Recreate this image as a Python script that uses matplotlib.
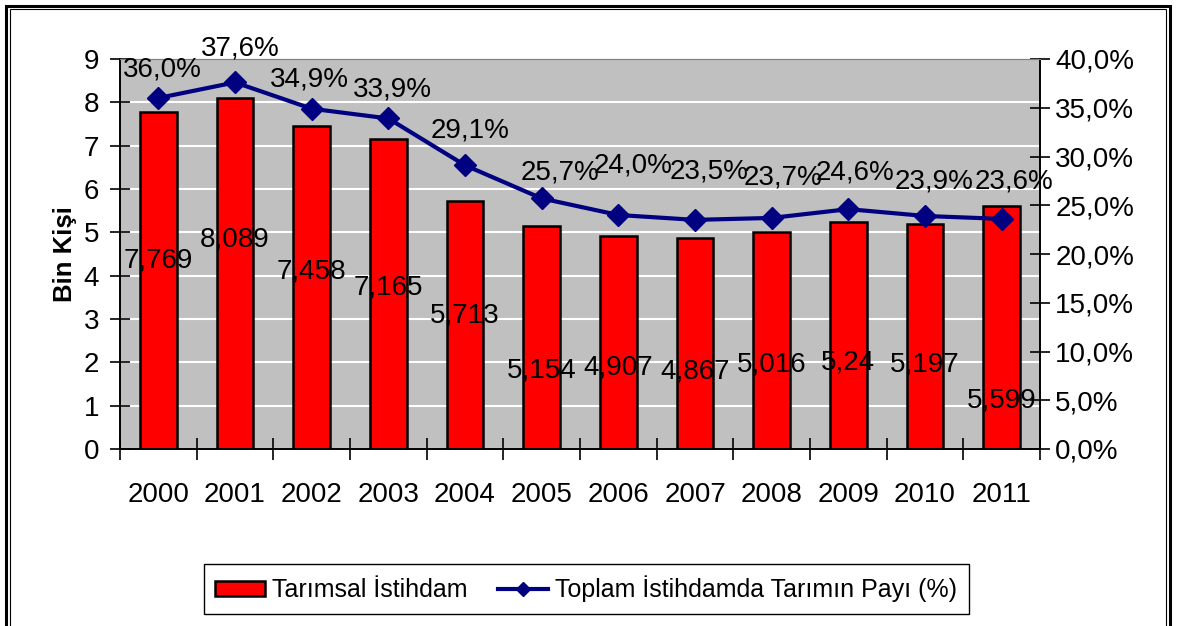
import matplotlib
matplotlib.use('Agg')
import matplotlib.pyplot as plt
from matplotlib.patches import Rectangle
from matplotlib.lines import Line2D
import numpy as np

plt.rcParams['font.family'] = ['Liberation Sans', 'DejaVu Sans']

# data
years = ['2000', '2001', '2002', '2003', '2004', '2005',
         '2006', '2007', '2008', '2009', '2010', '2011']
employment = [7.769, 8.089, 7.458, 7.165, 5.713, 5.154,
              4.907, 4.867, 5.016, 5.24, 5.197, 5.599]
employment_txt = ['7,769', '8,089', '7,458', '7,165', '5,713', '5,154',
                  '4,907', '4,867', '5,016', '5,24', '5,197', '5,599']
share = [36.0, 37.6, 34.9, 33.9, 29.1, 25.7,
         24.0, 23.5, 23.7, 24.6, 23.9, 23.6]

# where Excel dropped the labels (left-axis units / pixel offsets)
bar_label_y = [4.36, 4.83, 4.09, 3.72, 3.09, 1.82,
               1.87, 1.78, 1.94, 1.99, 1.94, 1.13]
pct_dx = [4, 5, -2, 4, 5, 18, 15, 14, 11, 7, 9, 12]
pct_dy = [28, 34, 29, 29, 35, 26, 50, 48, 40, 37, 34, 37]

W, H = 1179, 626
FS = 20
fig = plt.figure(figsize=(W / 100, H / 100), dpi=100)
ax = fig.add_axes([120 / W, 1 - 449 / H, 920 / W, 390 / H])
ax2 = ax.twinx()

x = np.arange(len(years))
ax.set_facecolor('#C0C0C0')
ax.set_axisbelow(True)
ax.yaxis.grid(True, color='white', linewidth=1.5)
ax.bar(x, employment, width=0.48, color='#FF0000', edgecolor='black',
       linewidth=1.8, zorder=2)
ax.set_xlim(-0.5, len(years) - 0.5)
ax.set_ylim(0, 9)
ax.set_yticks(range(0, 10))
ax.set_xticks(x)
ax.set_xticklabels(years)
ax.set_xticks(np.arange(-0.5, len(years)), minor=True)
ax.tick_params(axis='x', which='major', length=0, pad=24, labelsize=FS)
ax.tick_params(axis='x', which='minor', direction='inout', length=16, width=1.2)
ax.tick_params(axis='y', direction='inout', length=14, width=1.2,
               pad=8, labelsize=FS)
ax.set_ylabel('Bin Kişi', fontsize=18.5, fontweight='bold', labelpad=5)

for i in range(len(years)):
    ax.text(x[i], bar_label_y[i], employment_txt[i], ha='center',
            va='center', fontsize=FS, zorder=5)

ax2.plot(x, share, color='#000080', linewidth=3, marker='D',
         markersize=11, zorder=4)
ax2.set_ylim(0, 40)
ax2.set_yticks(range(0, 41, 5))
ax2.set_yticklabels([f'{v:.1f}%'.replace('.', ',') for v in range(0, 41, 5)])
ax2.tick_params(axis='y', direction='inout', length=14, width=1.2,
                pad=4, labelsize=FS)
for i in range(len(years)):
    ax2.annotate(f'{share[i]:.1f}%'.replace('.', ','), (x[i], share[i]),
                 xytext=(pct_dx[i] * 0.72, pct_dy[i] * 0.72),
                 textcoords='offset points', ha='center', va='center',
                 fontsize=FS)

for a in (ax, ax2):
    a.spines['top'].set_color('#808080')
    for s in ('left', 'right', 'bottom'):
        a.spines[s].set_linewidth(1.2)

handles = [Rectangle((0, 0), 1, 1, facecolor='#FF0000', edgecolor='black',
                     linewidth=1.8),
           Line2D([], [], color='#000080', linewidth=3, marker='D',
                  markersize=7)]
fig.legend(handles, ['Tarımsal İstihdam', 'Toplam İstihdamda Tarımın Payı (%)'],
           loc='center', bbox_to_anchor=(586 / W, 1 - 589 / H), ncol=2,
           fontsize=18, frameon=True, fancybox=False, edgecolor='black',
           framealpha=1, handlelength=2.0, handleheight=0.55,
           columnspacing=1.2, handletextpad=0.3, borderpad=0.45,
           borderaxespad=0)

# outer double frame of the original chart object
fig.patches.append(Rectangle((6 / W, -0.1), (1170 - 6) / W, 1.1 - 6 / H,
                             transform=fig.transFigure, fill=False,
                             edgecolor='black', linewidth=2.2))
fig.patches.append(Rectangle((10 / W, -0.1), (1166 - 10) / W, 1.1 - 9 / H,
                             transform=fig.transFigure, fill=False,
                             edgecolor='black', linewidth=0.8))

fig.savefig('out.png', dpi=100)
